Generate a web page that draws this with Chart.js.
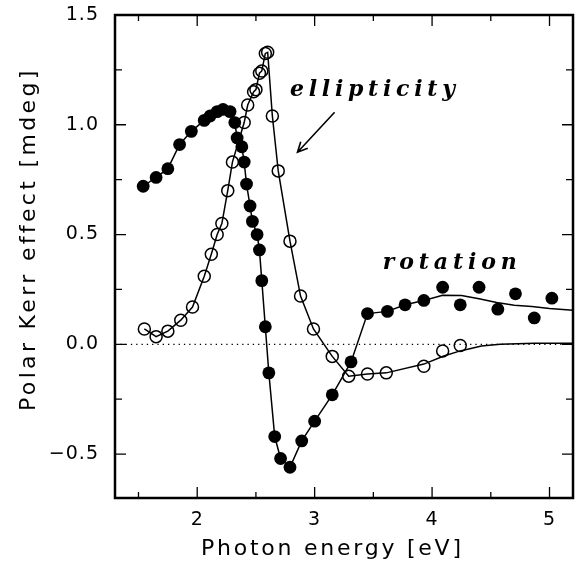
<!DOCTYPE html>
<html>
<head>
<meta charset="utf-8">
<script src="https://cdn.jsdelivr.net/npm/chart.js@4.4.1/dist/chart.umd.min.js"></script>
<style>
  html, body { margin: 0; padding: 0; background: #fff; }
</style>
</head>
<body>
<canvas id="kerr-chart" width="575" height="562"></canvas>
<script>
// --- measured points (read off the figure) ---
// rotation: filled circles
const rotationEnergy = [1.54, 1.65, 1.75, 1.85, 1.95, 2.06, 2.11, 2.17, 2.22, 2.28,
    2.32, 2.34, 2.38, 2.40, 2.42, 2.45, 2.47, 2.51, 2.53, 2.55,
    2.58, 2.61, 2.66, 2.71, 2.79, 2.89, 3.00, 3.15, 3.31, 3.45,
    3.62, 3.77, 3.93, 4.09, 4.24, 4.40, 4.56, 4.71, 4.87, 5.02];
const rotationValue = [0.72, 0.76, 0.80, 0.91, 0.97, 1.02, 1.04, 1.06, 1.07, 1.06,
    1.01, 0.94, 0.90, 0.83, 0.73, 0.63, 0.56, 0.50, 0.43, 0.29,
    0.08, -0.13, -0.42, -0.52, -0.56, -0.44, -0.35, -0.23, -0.08, 0.14,
    0.15, 0.18, 0.20, 0.26, 0.18, 0.26, 0.16, 0.23, 0.12, 0.21];
const rotationJoined = 33; // the drawn curve runs through the first 33 points...
const rotationCurveEnergy = [4.09, 4.25, 4.40, 4.55, 4.70, 4.85, 5.00, 5.20]; // ...then follows this smooth tail
const rotationCurve = [0.223, 0.222, 0.208, 0.190, 0.178, 0.172, 0.163, 0.155];

// ellipticity: open circles
const ellipticityEnergy = [1.55, 1.65, 1.75, 1.86, 1.96, 2.06, 2.12, 2.17, 2.21, 2.26,
    2.30, 2.40, 2.43, 2.48, 2.50, 2.53, 2.55, 2.58, 2.60, 2.64,
    2.69, 2.79, 2.88, 2.99, 3.15, 3.29, 3.45, 3.61, 3.93, 4.09, 4.24];
const ellipticityValue = [0.07, 0.035, 0.06, 0.11, 0.17, 0.31, 0.41, 0.50, 0.55, 0.70,
    0.83, 1.01, 1.09, 1.15, 1.16, 1.235, 1.245, 1.325, 1.33, 1.04,
    0.79, 0.47, 0.22, 0.07, -0.055, -0.145, -0.135, -0.13, -0.10, -0.03, -0.005];
const ellipticityJoined = 28;
const ellipticityCurveEnergy = [3.93, 4.10, 4.24, 4.42, 4.58, 4.87, 5.20];
const ellipticityCurve = [-0.09, -0.053, -0.03, -0.008, 0.0, 0.005, 0.005];

// axes
const xRange = [1.3, 5.2];
const yRange = [-0.7, 1.5];
const xTicks = [2, 3, 4, 5];
const xMinorTicks = [1.5, 2.5, 3.5, 4.5];
const yTicks = [-0.5, 0.0, 0.5, 1.0, 1.5];
const yMinorTicks = [-0.25, 0.25, 0.75, 1.25];

const toPoints = (xs, ys) => xs.map((v, i) => ({x: v, y: ys[i]}));

const rotationLine = toPoints(rotationEnergy.slice(0, rotationJoined), rotationValue)
    .concat(toPoints(rotationCurveEnergy, rotationCurve));
const ellipticityLine = toPoints(ellipticityEnergy.slice(0, ellipticityJoined), ellipticityValue)
    .concat(toPoints(ellipticityCurveEnergy, ellipticityCurve));

// draw text stretched to a given width with letter spacing
function spacedText(ctx, text, x, y, width) {
    ctx.letterSpacing = '0px';
    const w = ctx.measureText(text).width;
    ctx.letterSpacing = ((width - w) / (text.length - 1)) + 'px';
    ctx.textAlign = 'left';
    ctx.fillText(text, x, y);
    ctx.letterSpacing = '0px';
}

const tickLetters = {
    id: 'tickLetters',
    beforeDraw(chart) {
        chart.ctx.letterSpacing = '1px';
    }
};

const frameAndNotes = {
    id: 'frameAndNotes',
    afterDatasetsDraw(chart) {
        const {ctx, chartArea: a, scales: {x, y}} = chart;
        ctx.save();
        ctx.strokeStyle = '#000';
        ctx.fillStyle = '#000';

        // frame
        ctx.lineWidth = 2.5;
        ctx.strokeRect(a.left, a.top, a.right - a.left, a.bottom - a.top);

        // inward ticks on all four sides
        ctx.lineWidth = 1.3;
        ctx.beginPath();
        const xTick = (v, len) => {
            const px = x.getPixelForValue(v);
            ctx.moveTo(px, a.bottom); ctx.lineTo(px, a.bottom - len);
            ctx.moveTo(px, a.top); ctx.lineTo(px, a.top + len);
        };
        const yTick = (v, len) => {
            const py = y.getPixelForValue(v);
            ctx.moveTo(a.left, py); ctx.lineTo(a.left + len, py);
            ctx.moveTo(a.right, py); ctx.lineTo(a.right - len, py);
        };
        xTicks.forEach(v => xTick(v, 11));
        xMinorTicks.forEach(v => xTick(v, 6));
        yTicks.forEach(v => yTick(v, 11));
        yMinorTicks.forEach(v => yTick(v, 7));
        ctx.stroke();

        // labels inside the plot
        ctx.font = 'bold italic 22px "DejaVu Serif"';
        ctx.textBaseline = 'alphabetic';
        spacedText(ctx, 'ellipticity', x.getPixelForValue(2.79), y.getPixelForValue(1.13), 165);
        spacedText(ctx, 'rotation', x.getPixelForValue(3.58), y.getPixelForValue(0.342), 134);

        // arrow pointing at the ellipticity curve
        const x0 = x.getPixelForValue(3.17), y0 = y.getPixelForValue(1.057);
        const x1 = x.getPixelForValue(2.854), y1 = y.getPixelForValue(0.875);
        const ang = Math.atan2(y1 - y0, x1 - x0);
        ctx.lineWidth = 1.6;
        ctx.beginPath();
        ctx.moveTo(x0, y0);
        ctx.lineTo(x1, y1);
        ctx.moveTo(x1 - 11 * Math.cos(ang - 0.45), y1 - 11 * Math.sin(ang - 0.45));
        ctx.lineTo(x1, y1);
        ctx.lineTo(x1 - 11 * Math.cos(ang + 0.45), y1 - 11 * Math.sin(ang + 0.45));
        ctx.stroke();
        ctx.restore();
    },
    afterDraw(chart) {
        const ctx = chart.ctx;
        ctx.save();
        ctx.fillStyle = '#000';
        ctx.font = '22px "DejaVu Sans"';
        ctx.textBaseline = 'middle';
        spacedText(ctx, 'Photon energy [eV]', 201, 549, 260);
        ctx.translate(29, 241);
        ctx.rotate(-Math.PI / 2);
        spacedText(ctx, 'Polar Kerr effect [mdeg]', -170, 0, 340);
        ctx.restore();
    }
};

const ctx = document.getElementById('kerr-chart').getContext('2d');
const kerrChart = new Chart(ctx, {
    type: 'scatter',
    data: {
        datasets: [
            {
                label: 'rotation',
                data: toPoints(rotationEnergy, rotationValue),
                pointStyle: 'circle',
                pointRadius: 6.4,
                pointBackgroundColor: '#000',
                pointBorderWidth: 0,
                showLine: false,
                order: 0
            },
            {
                label: 'ellipticity',
                data: toPoints(ellipticityEnergy, ellipticityValue),
                pointStyle: 'circle',
                pointRadius: 6,
                pointBackgroundColor: 'rgba(0,0,0,0)',
                pointBorderColor: '#000',
                pointBorderWidth: 1.5,
                showLine: false,
                order: 1
            },
            {
                label: 'rotation curve',
                data: rotationLine,
                showLine: true,
                borderColor: '#000',
                borderWidth: 1.5,
                pointRadius: 0,
                tension: 0,
                order: 2
            },
            {
                label: 'ellipticity curve',
                data: ellipticityLine,
                showLine: true,
                borderColor: '#000',
                borderWidth: 1.5,
                pointRadius: 0,
                tension: 0,
                order: 2
            },
            {
                label: 'zero',
                data: [{x: xRange[0], y: 0}, {x: xRange[1], y: 0}],
                showLine: true,
                borderColor: '#000',
                borderWidth: 1.2,
                borderDash: [1.3, 4],
                pointRadius: 0,
                order: 3
            }
        ]
    },
    options: {
        responsive: false,
        animation: false,
        devicePixelRatio: 1,
        layout: {autoPadding: false, padding: {top: 15, right: 2, left: 0, bottom: 0}},
        plugins: {
            legend: {display: false},
            tooltip: {enabled: false}
        },
        scales: {
            x: {
                type: 'linear',
                min: xRange[0],
                max: xRange[1],
                grid: {display: false, drawTicks: false},
                border: {display: false},
                afterBuildTicks: scale => { scale.ticks = xTicks.map(v => ({value: v})); },
                afterFit: scale => {
                    scale.height = 64;
                    scale.paddingLeft = 0;
                    scale.paddingRight = 0;
                },
                ticks: {
                    padding: 11,
                    color: '#000',
                    font: {family: 'DejaVu Sans', size: 19},
                    callback: v => String(v)
                }
            },
            y: {
                type: 'linear',
                min: yRange[0],
                max: yRange[1],
                grid: {display: false, drawTicks: false},
                border: {display: false},
                afterBuildTicks: scale => { scale.ticks = yTicks.map(v => ({value: v})); },
                afterFit: scale => {
                    scale.width = 115;
                    scale.paddingTop = 0;
                    scale.paddingBottom = 0;
                },
                ticks: {
                    padding: 16,
                    color: '#000',
                    font: {family: 'DejaVu Sans', size: 19},
                    callback: v => (v < 0 ? '\u2212' : '') + Math.abs(v).toFixed(1)
                }
            }
        }
    },
    plugins: [tickLetters, frameAndNotes]
});
</script>
</body>
</html>
